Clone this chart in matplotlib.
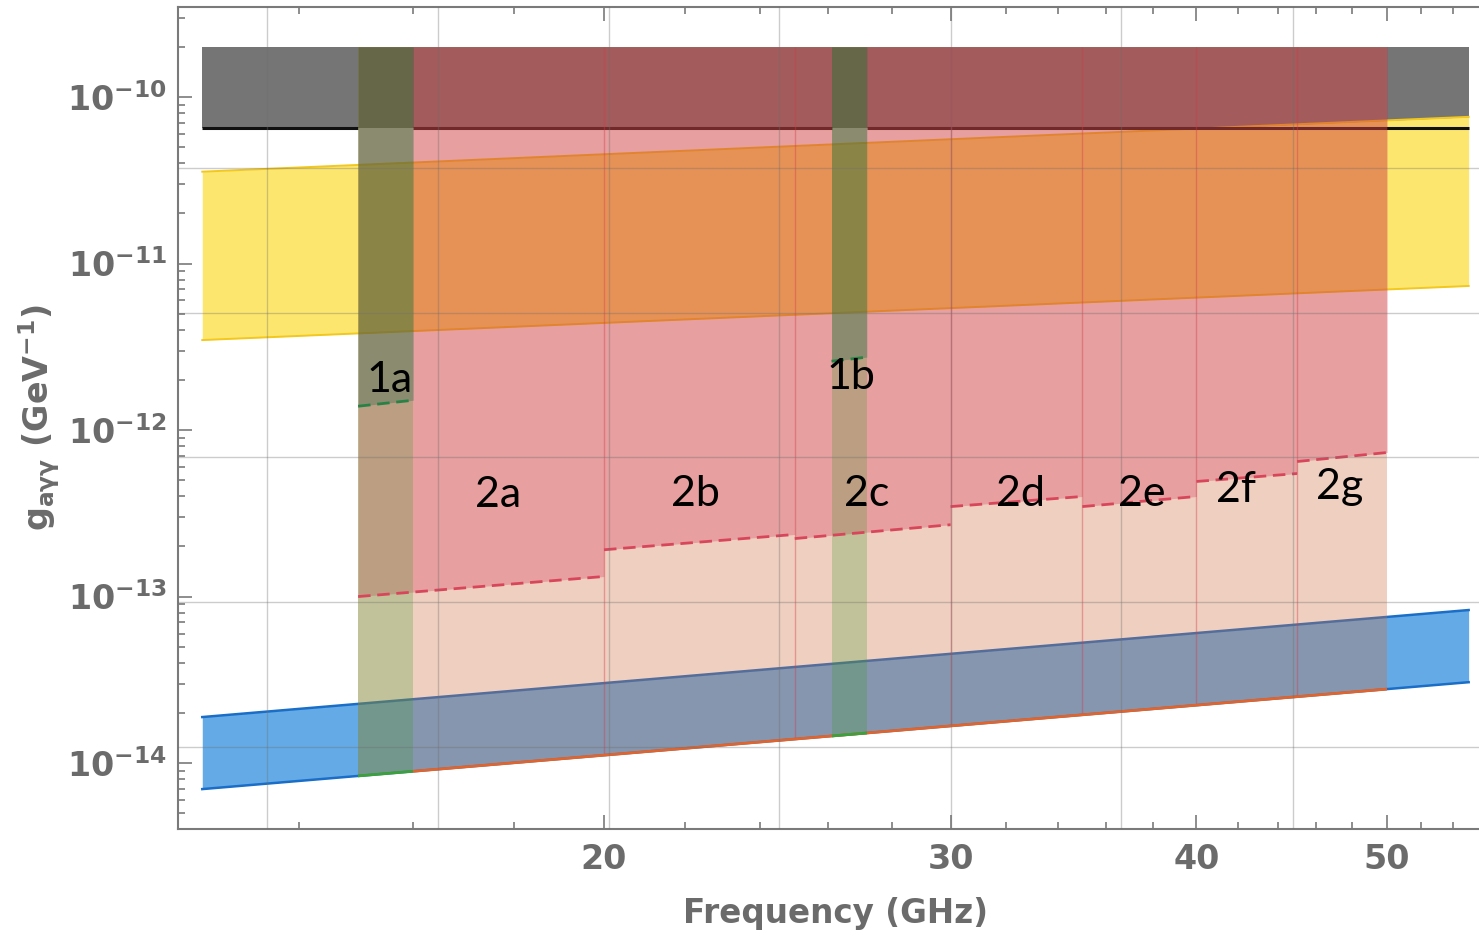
import math

import matplotlib
matplotlib.use("Agg")
import matplotlib.pyplot as plt
from matplotlib.patches import Polygon, Rectangle
from matplotlib.ticker import FixedLocator, NullFormatter, FuncFormatter

plt.rcParams["font.family"] = "DejaVu Sans"
plt.rcParams["font.weight"] = "bold"
plt.rcParams["mathtext.fontset"] = "custom"
plt.rcParams["mathtext.rm"] = "DejaVu Sans:bold"
plt.rcParams["mathtext.it"] = "DejaVu Sans:bold:italic"
plt.rcParams["mathtext.bf"] = "DejaVu Sans:bold"
plt.rcParams["mathtext.sf"] = "DejaVu Sans:bold"
plt.rcParams["mathtext.default"] = "regular"

# broad bands, given at the two ends of the frequency span (GHz)
band_f = [12.5, 55.0]
excluded_top = 2.0e-10
excluded_floor = 6.5e-11
yellow_hi = [3.56e-11, 7.6e-11]
yellow_lo = [3.47e-12, 7.33e-12]
blue_hi = [1.89e-14, 8.3e-14]
blue_lo = [6.98e-15, 3.06e-14]

# stage 2 scan windows and their reach (dashed line at both ends)
win2_names = ["2a", "2b", "2c", "2d", "2e", "2f", "2g"]
win2_lo = [15, 20, 25, 30, 35, 40, 45]
win2_hi = [20, 25, 30, 35, 40, 45, 50]
win2_g0 = [1.0e-13, 1.91e-13, 2.23e-13, 3.47e-13, 3.47e-13, 4.91e-13, 6.47e-13]
win2_g1 = [1.32e-13, 2.36e-13, 2.70e-13, 3.99e-13, 3.99e-13, 5.48e-13, 7.33e-13]
win2_label_f = [17.67, 22.27, 27.18, 32.57, 37.5, 41.9, 47.3]
win2_label_g = [4.07e-13, 4.13e-13, 4.13e-13, 4.13e-13, 4.13e-13, 4.37e-13, 4.55e-13]

# stage 1 windows
win1_names = ["1a", "1b"]
win1_lo = [15.0, 26.1]
win1_hi = [16.0, 27.2]
win1_g0 = [1.39e-12, 2.59e-12]
win1_g1 = [1.51e-12, 2.74e-12]
win1_label_f = [15.57, 26.7]
win1_label_g = [2.0e-12, 2.08e-12]

# grid positions
grid_f = [13.49, 16.47, 20.12, 24.55, 30.0, 36.63, 44.79]
grid_g = [3.75e-11, 5.05e-12, 6.89e-13, 9.27e-14, 1.25e-14]

xticks_major = [20, 30, 40, 50]
xticks_minor = [14, 16, 18, 22, 24, 26, 28, 32, 34, 36, 38, 42, 44, 46, 48, 52, 54]
yticks_major = [1e-14, 1e-13, 1e-12, 1e-11, 1e-10]
yticks_minor = [m * 10.0 ** e for e in range(-15, -9) for m in range(2, 10)]

W, H = 1479, 936
fig = plt.figure(figsize=(W / 100, H / 100), dpi=100)
ax = fig.add_axes([178 / W, 1 - 829 / H, 1301 / W, 822 / H])
ax.set_xscale("log")
ax.set_yscale("log")
ax.set_xlim(12.15, 55.67)
ax.set_ylim(4.02e-15, 3.47e-10)

# everything above the lower edge of the blue band
floor_clip = Polygon([(band_f[0], blue_lo[0]), (band_f[1], blue_lo[1]),
                      (band_f[1], 1e-8), (band_f[0], 1e-8)],
                     closed=True, transform=ax.transData)

# base bands
ax.fill_between(band_f, excluded_floor, excluded_top, color="#757575", lw=0, zorder=1)
ax.fill_between(band_f, yellow_lo, yellow_hi, color="#FDE66E", lw=0, zorder=2)
ax.plot(band_f, yellow_hi, color="#F2C81E", lw=1.4, zorder=2)
ax.plot(band_f, yellow_lo, color="#F2C81E", lw=1.4, zorder=2)
# limit line, broken where the stage 1 strips sit
seg_start = [band_f[0]] + win1_hi
seg_end = win1_lo + [band_f[1]]
ax.hlines([excluded_floor] * len(seg_start), seg_start, seg_end,
          color="#111111", lw=2.2, zorder=3)
ax.fill_between(band_f, blue_lo, blue_hi, color="#64AAE6", lw=0, zorder=3)
ax.plot(band_f, blue_hi, color="#1A6EC8", lw=1.8, zorder=3)
ax.plot(band_f, blue_lo, color="#1A6EC8", lw=1.8, zorder=3)

# stage 2 windows
for lo, hi, g0, g1 in zip(win2_lo, win2_hi, win2_g0, win2_g1):
    pc = ax.fill_between([lo, hi], 1e-16, excluded_top, color="#D06C3A",
                         alpha=0.32, lw=0, zorder=4)
    pc.set_clip_path(floor_clip)
    ax.fill_between([lo, hi], [g0, g1], excluded_top, color="#D21E49",
                    alpha=0.27, lw=0, zorder=5)
vl = ax.vlines(win2_lo[1:], 1e-16, excluded_top, colors="#D23C4B", lw=1.0,
               alpha=0.4, zorder=5)
vl.set_clip_path(floor_clip)

# stage 1 windows
for lo, hi, g0, g1 in zip(win1_lo, win1_hi, win1_g0, win1_g1):
    pc = ax.fill_between([lo, hi], 1e-16, excluded_top, color="#3C9C2C",
                         alpha=0.25, lw=0, zorder=6)
    pc.set_clip_path(floor_clip)
    ax.fill_between([lo, hi], [g0, g1], excluded_top, color="#0A5A3C",
                    alpha=0.27, lw=0, zorder=6)

# lower edge of the scanned region
edge, = ax.plot(band_f, blue_lo, color="#E0642D", lw=2.0, zorder=7)
edge.set_clip_path(Rectangle((win1_hi[0], 1e-16), win2_hi[-1] - win1_hi[0], 1,
                             transform=ax.transData))
for lo, hi in zip(win1_lo, win1_hi):
    ln, = ax.plot(band_f, blue_lo, color="#3CA03C", lw=2.0, zorder=7)
    ln.set_clip_path(Rectangle((lo, 1e-16), hi - lo, 1, transform=ax.transData))

for lo, hi, g0, g1 in zip(win2_lo, win2_hi, win2_g0, win2_g1):
    ax.plot([lo, hi], [g0, g1], color="#D8465C", lw=2.0, ls=(0, (4.5, 2.4)), zorder=8)
for lo, hi, g0, g1 in zip(win1_lo, win1_hi, win1_g0, win1_g1):
    ax.plot([lo, hi], [g0, g1], color="#288246", lw=2.0, ls=(0, (4.5, 2.4)), zorder=8)

# grid on top of the fills
for f in grid_f:
    ax.axvline(f, color="#6E6E6E", lw=1.0, alpha=0.35, zorder=9)
for g in grid_g:
    ax.axhline(g, color="#6E6E6E", lw=1.0, alpha=0.35, zorder=9)

for name, f, g in zip(win2_names + win1_names, win2_label_f + win1_label_f,
                      win2_label_g + win1_label_g):
    ax.text(f, g, name, ha="center", va="center", fontsize=31, family="Lato",
            fontweight="normal", color="black", zorder=12)

# axes styling
axis_grey = "#7A7A7A"
text_grey = "#6B6B6B"
for side in ["left", "bottom", "top"]:
    ax.spines[side].set_color(axis_grey)
    ax.spines[side].set_linewidth(1.5)
ax.spines["right"].set_visible(False)

ax.xaxis.set_major_locator(FixedLocator(xticks_major))
ax.xaxis.set_minor_locator(FixedLocator(xticks_minor))
ax.xaxis.set_major_formatter(FuncFormatter(lambda v, p: f"{v:.0f}"))
ax.xaxis.set_minor_formatter(NullFormatter())
ax.yaxis.set_major_locator(FixedLocator(yticks_major))
ax.yaxis.set_minor_locator(FixedLocator(yticks_minor))
ax.yaxis.set_major_formatter(FuncFormatter(lambda v, p: r"$10^{%d}$" % round(math.log10(v))))
ax.yaxis.set_minor_formatter(NullFormatter())

ax.tick_params(which="both", direction="in", top=True, right=False,
               color=axis_grey, width=1.2, labelcolor=text_grey)
ax.tick_params(axis="x", which="major", labelsize=24, pad=10)
ax.tick_params(axis="y", which="major", labelsize=24, pad=8)
ax.tick_params(which="major", length=10)
ax.tick_params(which="minor", length=5)

ax.set_xlabel("Frequency (GHz)", fontsize=23.5, color=text_grey, fontweight="bold")
ax.xaxis.set_label_coords(0.505, -0.083)
ax.set_ylabel(r"$g_{a\gamma\gamma}$ (GeV$^{-1}$)", fontsize=24, color=text_grey,
              fontweight="bold")
ax.yaxis.set_label_coords(-0.089, 0.5)

fig.savefig("out.png", dpi=100)
